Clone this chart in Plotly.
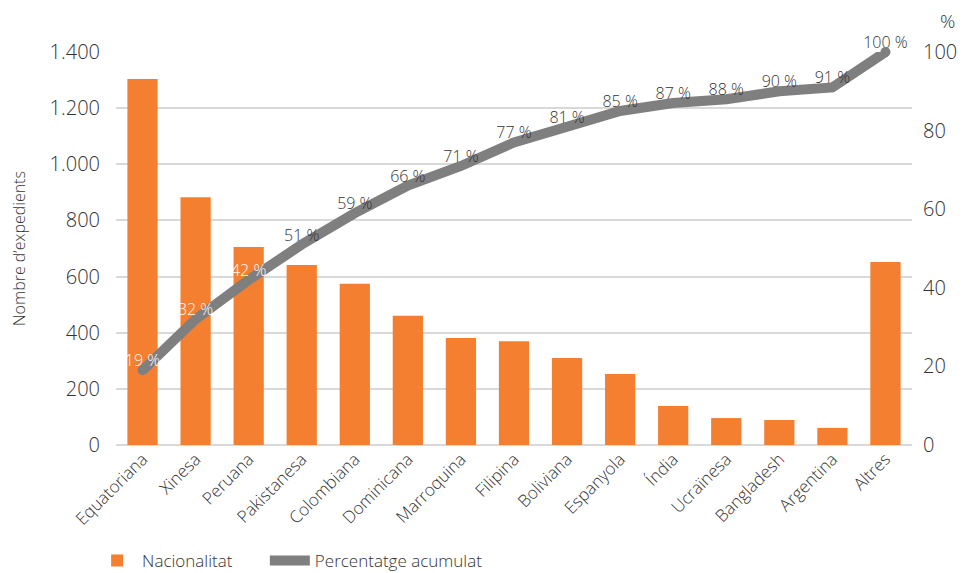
import plotly.graph_objects as go

categories = ["Equatoriana", "Xinesa", "Peruana", "Pakistanesa", "Colombiana", "Dominicana",
              "Marroquina", "Filipina", "Boliviana", "Espanyola", "Índia", "Ucraïnesa",
              "Bangladesh", "Argentina", "Altres"]
expedients = [1304, 883, 705, 641, 574, 460, 381, 370, 310, 253, 139, 96, 89, 61, 652]
cumulative_pct = [19, 32, 42, 51, 59, 66, 71, 77, 81, 85, 87, 88, 90, 91, 100]

ORANGE = "#F47F30"
GREY = "#7F7F80"
TEXT = "#333333"
FONT = "Open Sans"
W = 300

label_colors = ["white" if i < 3 else TEXT for i in range(len(categories))]

fig = go.Figure()
fig.add_trace(go.Bar(
    x=categories, y=expedients, name="Nacionalitat",
    marker=dict(color=ORANGE, line=dict(width=0)),
    yaxis="y", legend="legend",
))
fig.add_trace(go.Scatter(
    x=categories, y=cumulative_pct, name="Percentatge acumulat",
    mode="lines+text",
    line=dict(color=GREY, width=10),
    text=[f"{v} %" for v in cumulative_pct],
    textposition="top center",
    textfont=dict(family=FONT, size=16, color=label_colors, weight=W),
    yaxis="y2", legend="legend2",
    cliponaxis=False,
))
# round caps for the line ends
fig.add_trace(go.Scatter(
    x=[categories[0], categories[-1]], y=[cumulative_pct[0], cumulative_pct[-1]],
    mode="markers", marker=dict(color=GREY, size=10),
    yaxis="y2", showlegend=False, hoverinfo="skip", cliponaxis=False,
))

legend_common = dict(
    orientation="h", xanchor="left", y=-0.295, yanchor="middle",
    font=dict(size=17, color=TEXT, weight=W), itemwidth=40,
    bgcolor="rgba(0,0,0,0)",
)

fig.update_layout(
    width=966, height=565,
    margin=dict(l=108, r=62, t=44, b=128, autoexpand=False),
    paper_bgcolor="white", plot_bgcolor="white",
    separators=",.",
    bargap=0.43,
    font=dict(family=FONT, color=TEXT, weight=W),
    xaxis=dict(
        range=[-0.5, len(categories) - 0.5],
        tickangle=-45, tickfont=dict(size=17, color=TEXT, weight=W),
        showgrid=False, showline=False, ticks="", automargin=False,
    ),
    yaxis=dict(
        range=[0, 1400], dtick=200, tickformat=",d",
        tickfont=dict(size=20, color=TEXT, weight=W),
        showgrid=True, gridcolor="#D9D9D9", gridwidth=1.5,
        zeroline=True, zerolinecolor="#D9D9D9", zerolinewidth=2,
        showline=False, ticks="", ticklabelstandoff=15, automargin=False,
        title=dict(text="Nombre d’expedients", font=dict(size=16, color=TEXT, weight=W), standoff=20),
    ),
    yaxis2=dict(
        range=[0, 100], dtick=20, overlaying="y", side="right",
        tickfont=dict(size=20, color=TEXT, weight=W), automargin=False,
        showgrid=False, zeroline=False, showline=False, ticks="",
        ticklabelstandoff=10,
    ),
    legend=dict(x=-0.03, **legend_common),
    legend2=dict(x=0.187, **legend_common),
    annotations=[dict(
        text="%", xref="paper", yref="paper", x=1.045, y=1.078,
        xanchor="center", yanchor="middle", showarrow=False,
        font=dict(size=19, color=TEXT, weight=W),
    )],
)

fig.write_html("out.html")
